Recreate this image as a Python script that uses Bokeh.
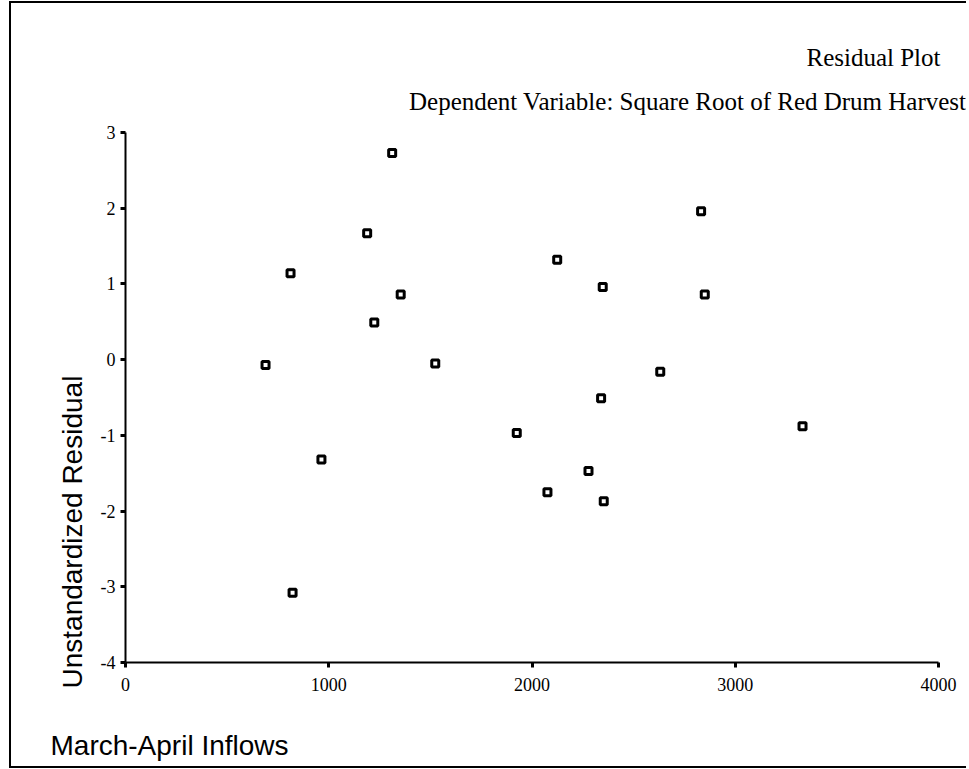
import math
from bokeh.plotting import figure
from bokeh.models import Range1d, FixedTicker, Label
from bokeh.embed import file_html
from bokeh.resources import INLINE

# ---- data ----
inflows = [689, 812, 964, 822, 1312, 1189, 1224, 1354, 1524, 1925,
           2076, 2124, 2278, 2340, 2348, 2353, 2631, 2832, 2850, 3331]
residuals = [-0.07, 1.14, -1.32, -3.08, 2.73, 1.67, 0.49, 0.86, -0.05, -0.97,
             -1.75, 1.32, -1.47, -0.51, 0.96, -1.87, -0.16, 1.96, 0.86, -0.88]

x_ticks = [0, 1000, 2000, 3000, 4000]
x_tick_labels = ["0", "1000", "2000", "3000", "4000"]
y_ticks = [-4, -3, -2, -1, 0, 1, 2, 3]
y_tick_labels = ["-4", "-3", "-2", "-1", "0", "1", "2", "3"]

title_text = "Residual Plot"
subtitle_text = "Dependent Variable: Square Root of Red Drum Harvest"
x_label = "March-April Inflows"
y_label = "Unstandardized Residual"

# ---- layout geometry (page pixels) ----
W, H = 957, 767            # element / canvas size
OX, OY = 11, 3             # canvas origin on the page
AX_L, AX_R = 125, 938      # page x of x=0 and x=4000
AX_T, AX_B = 132, 662      # page y of y=3 and y=-4
x0, x1 = x_ticks[0], x_ticks[-1]
y0, y1 = y_ticks[0], y_ticks[-1]
kx = (AX_R - AX_L) / (x1 - x0)
ky = (AX_B - AX_T) / (y1 - y0)
xr = Range1d(x0 - (AX_L - OX) / kx, x1 + (OX + W - AX_R) / kx)
yr = Range1d(y0 - (OY + H - AX_B) / ky, y1 + (AX_T - OY) / ky)

p = figure(width=W, height=H, output_backend="svg", toolbar_location=None,
           title=None, x_range=xr, y_range=yr,
           min_border_left=0, min_border_right=0,
           min_border_top=0, min_border_bottom=0,
           styles={"margin-left": "9px", "margin-top": "1px",
                   "border-left": "2px solid black",
                   "border-top": "2px solid black",
                   "border-bottom": "2px solid black"})
p.outline_line_color = None
p.xgrid.visible = False
p.ygrid.visible = False
p.background_fill_color = "white"
p.border_fill_color = "white"

for ax in (p.xaxis[0], p.yaxis[0]):
    ax.axis_line_width = 2
    ax.axis_line_color = "black"
    ax.major_tick_line_width = 3
    ax.major_tick_line_color = "black"
    ax.major_tick_in = 0
    ax.major_tick_out = 5
    ax.minor_tick_line_color = None
    ax.major_label_text_font = "Liberation Serif"
    ax.major_label_text_font_size = "18px"
    ax.major_label_text_color = "black"

xa = p.xaxis[0]
xa.fixed_location = y0
xa.bounds = (x0, x1)
xa.ticker = FixedTicker(ticks=x_ticks)
xa.major_label_overrides = {t: l for t, l in zip(x_ticks, x_tick_labels)}
xa.major_label_standoff = 10

ya = p.yaxis[0]
ya.fixed_location = x0
ya.bounds = (y0, y1)
ya.ticker = FixedTicker(ticks=y_ticks)
ya.major_label_overrides = {t: l for t, l in zip(y_ticks, y_tick_labels)}
ya.major_label_standoff = 5

p.scatter(inflows, residuals, marker="square", size=7, line_width=3,
          line_color="black", fill_color="white")


def sx(px):
    return px - OX


def sy(py):
    return OY + H - py


p.add_layout(Label(x=sx(940), y=sy(57), x_units="screen", y_units="screen",
                   text=title_text, text_font="Liberation Serif",
                   text_font_size="25px", text_align="right",
                   text_baseline="alphabetic", text_color="black"))
p.add_layout(Label(x=sx(966), y=sy(101), x_units="screen", y_units="screen",
                   text=subtitle_text, text_font="Liberation Serif",
                   text_font_size="25px", text_align="right",
                   text_baseline="alphabetic", text_color="black"))
p.add_layout(Label(x=sx(50), y=sy(745), x_units="screen", y_units="screen",
                   text=x_label, text_font="Liberation Sans",
                   text_font_size="28px", text_align="left",
                   text_baseline="alphabetic", text_color="black"))
p.add_layout(Label(x=sx(72), y=sy(688), x_units="screen", y_units="screen",
                   text=y_label, text_font="Liberation Sans",
                   text_font_size="28px", text_align="left", angle=math.pi / 2,
                   text_baseline="alphabetic", text_color="black"))

open("out.html", "w").write(file_html(p, INLINE))
